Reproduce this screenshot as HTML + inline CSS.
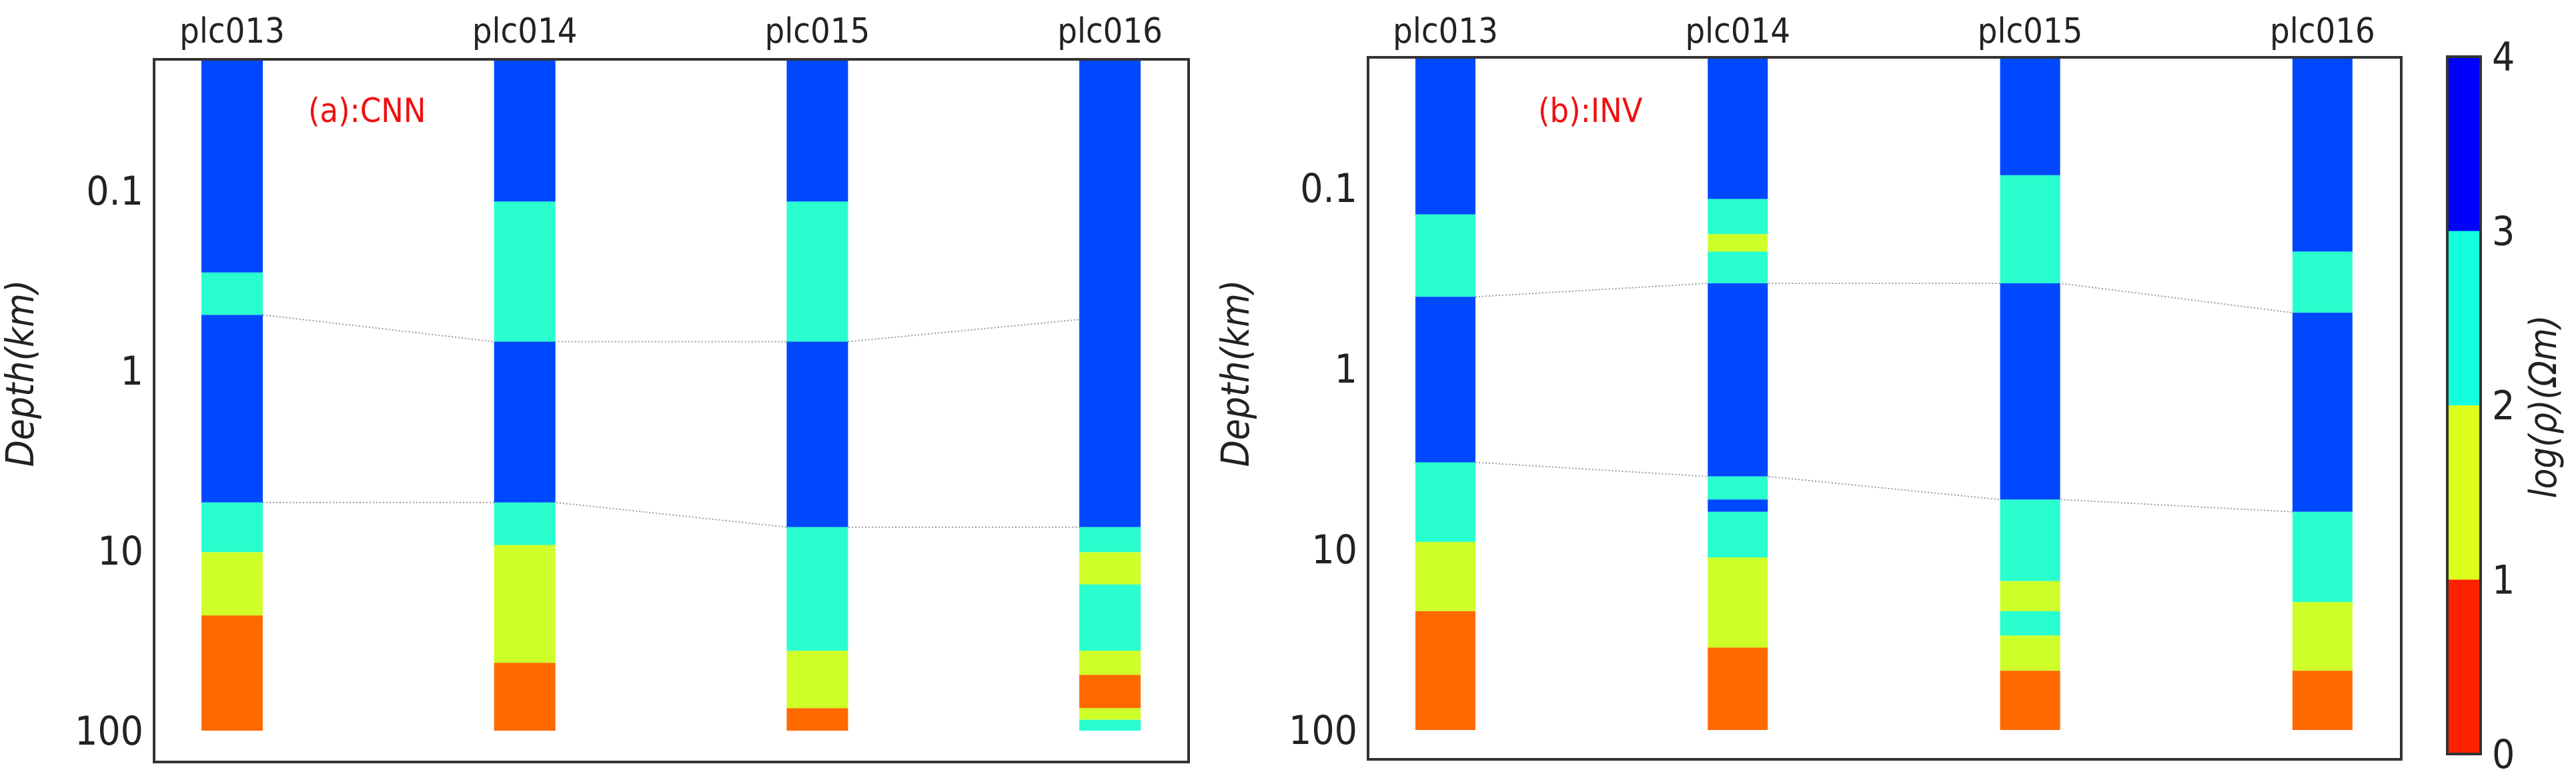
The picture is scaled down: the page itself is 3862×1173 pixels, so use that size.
<!DOCTYPE html>
<html><head><meta charset="utf-8"><style>
html,body{margin:0;padding:0;background:#fff;}
svg{display:block;}
text{font-family:"DejaVu Sans Condensed","DejaVu Sans","Liberation Sans",sans-serif;fill:#222;}
</style></head><body>
<svg id="fig" width="3862" height="1173" viewBox="0 0 3862 1173" xmlns="http://www.w3.org/2000/svg"></svg>
<script>
const stations = ["plc013","plc014","plc015","plc016"];
const depthTicks = [0.1, 1, 10, 100];
const tickLabels = ["0.1","1","10","100"];
const cnnBounds = [
 [0.285,0.49,5.4,10.2,22.9,100],
 [0.115,0.69,5.4,9.3,42,100],
 [0.115,0.69,7.4,36,75,100],
 [7.4,10.2,15.4,36,49,75,87,100]];
const cnnClass = [
 [3,2,3,2,1,0],
 [3,2,3,2,1,0],
 [3,2,3,2,1,0],
 [3,2,1,2,1,0,1,2]];
const invBounds = [
 [0.14,0.40,3.3,9.1,22,100],
 [0.115,0.18,0.225,0.337,3.95,5.3,6.2,11.1,35,100],
 [0.085,0.337,5.3,15,22,30,47,100],
 [0.225,0.49,6.2,19.6,47,100]];
const invClass = [
 [3,2,3,2,1,0],
 [3,2,1,2,3,2,3,2,1,0],
 [3,2,3,2,1,2,1,0],
 [3,2,3,2,1,0]];
const cnnLine1 = [0.49,0.69,0.69,0.52];
const cnnLine2 = [5.4,5.4,7.4,7.4];
const invLine1 = [0.40,0.337,0.337,0.49];
const invLine2 = [3.3,3.95,5.3,6.2];
const cbarTicks = [0,1,2,3,4];

const colors = ["#ff6a00","#ceff29","#29ffce","#0048ff"];
const cbarColors = ["#ff2200","#dcff1e","#14ffe0","#0000ff"];
const NS="http://www.w3.org/2000/svg";
const svg=document.getElementById('fig');
function el(t,a,p){const e=document.createElementNS(NS,t);for(const k in a)e.setAttribute(k,a[k]);(p||svg).appendChild(e);return e;}

function panel(cfg){
  const g=el('g',{});
  
  
  const dTop=0.0186;
  const y=d=>cfg.yOne+Math.log10(d)*cfg.dec;
  const xOf=i=>cfg.x0+i*cfg.dx;
  [cfg.l1,cfg.l2].forEach((ln,k)=>{
    let pts=[];
    ln.forEach((d,i)=>{pts.push((xOf(i)-cfg.w/2)+','+y(d));pts.push((xOf(i)+cfg.w/2)+','+y(d));});
    pts=pts.slice(1,-1);
    const p=el('polyline',{points:pts.join(' '),fill:'none',stroke:'#999','stroke-width':2,'stroke-dasharray':'2,3'},g);
    
    
  });
  cfg.bounds.forEach((bs,i)=>{
    let prev=dTop;
    bs.forEach((b,j)=>{
      const r=el('rect',{x:xOf(i)-cfg.w/2,y:y(prev),width:cfg.w,height:y(b)-y(prev),fill:colors[cfg.cls[i][j]]},g);
      
      
      prev=b;
    });
    const t=el('text',{x:xOf(i),y:64,'text-anchor':'middle','font-size':52},g);
    t.textContent=stations[i];
    
    
  });
  depthTicks.forEach((d,i)=>{
    const t=el('text',{x:cfg.fx0-16,y:y(d)+21,'text-anchor':'end','font-size':60},g);
    t.textContent=tickLabels[i];
    
    
  });
  const f=el('rect',{x:cfg.fx0,y:cfg.fy0,width:cfg.fx1-cfg.fx0,height:cfg.fy1-cfg.fy0,fill:'none',stroke:'#333','stroke-width':4},g);
  
  
  const yt=el('text',{x:cfg.ylx,y:560,'text-anchor':'middle','font-size':58,'font-style':'italic',transform:'rotate(-90 '+cfg.ylx+' 560)'},g);
  yt.textContent='Depth(km)';
  
  
  const tt=el('text',{x:cfg.tx,y:183,'font-size':50,'font-family':'Liberation Sans, sans-serif',style:'fill:#f01010'},g);
  tt.textContent=cfg.title;
  
  
}
panel({name:'panel-a-cnn',x0:348,dx:438.7,w:92,yOne:556,dec:270,fx0:231,fx1:1782,fy0:89,fy1:1143,l1:cnnLine1,l2:cnnLine2,bounds:cnnBounds,cls:cnnClass,ylx:50,tx:462,title:'(a):CNN'});
panel({name:'panel-b-inv',x0:2167,dx:438.3,w:90,yOne:553,dec:271,fx0:2051,fx1:3600,fy0:86,fy1:1139,l1:invLine1,l2:invLine2,bounds:invBounds,cls:invClass,ylx:1872,tx:2306,title:'(b):INV'});

const cb=el('g',{});


const cbTop=85,cbBot=1131,cbX=3669,cbW=50;
const cy=v=>cbBot-(v-cbarTicks[0])/(cbarTicks[cbarTicks.length-1]-cbarTicks[0])*(cbBot-cbTop);
for(let i=0;i<4;i++){
  const r=el('rect',{x:cbX,y:cy(i+1),width:cbW,height:cy(i)-cy(i+1),fill:cbarColors[i]},cb);
  
  
}
el('rect',{x:cbX,y:cbTop,width:cbW,height:cbBot-cbTop,fill:'none',stroke:'#333','stroke-width':4},cb);
cbarTicks.forEach(v=>{
  const t=el('text',{x:3736,y:cy(v)+21,'font-size':60},cb);
  t.textContent=String(v);
  
  
});
const cl=el('text',{x:3832,y:610,'text-anchor':'middle','font-size':56,'font-style':'italic',transform:'rotate(-90 3832 610)'},cb);
cl.textContent='log(ρ)(Ωm)';


</script>
</body></html>
